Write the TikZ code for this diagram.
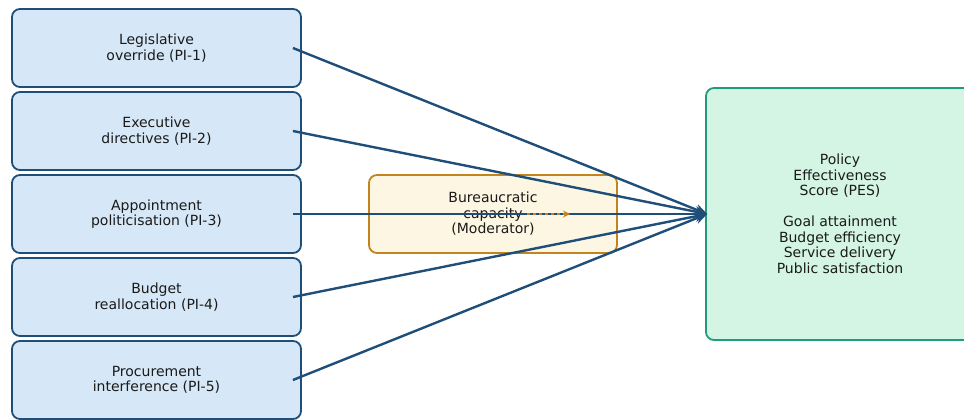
\documentclass[tikz,border=0pt]{standalone}
\usepackage{fontspec}
\setmainfont{DejaVu Sans}
\usetikzlibrary{arrows.meta}
\definecolor{pibord}{HTML}{1F4E79}
\definecolor{pifill}{HTML}{D6E8F7}
\definecolor{modbord}{HTML}{C4841D}
\definecolor{modfill}{HTML}{FDF6E3}
\definecolor{pesbord}{HTML}{1E9C7C}
\definecolor{pesfill}{HTML}{D4F5E4}
\definecolor{txt}{HTML}{1A1A1A}
\tikzset{
  basebox/.style={line width=1.8pt, rounded corners=8pt, align=center, text=txt,
    font=\fontsize{14}{15.5}\selectfont},
  pibox/.style={basebox, draw=pibord, fill=pifill, minimum width=289pt, minimum height=78pt},
  modbox/.style={basebox, draw=modbord, fill=modfill, minimum width=248pt, minimum height=78pt},
  pesbox/.style={basebox, draw=pesbord, fill=pesfill, minimum width=268pt, minimum height=252pt},
  link/.style={draw=pibord, line width=2.4pt, -{Stealth[length=12pt,width=11pt]}},
  modlink/.style={draw=modbord, line width=1.8pt, dash pattern=on 3pt off 3pt, -{Stealth[length=7pt,width=7pt]}}
}
\begin{document}
\begin{tikzpicture}[x=1pt,y=-1pt]
\useasboundingbox (0,0) rectangle (964,420);
\node[pibox] (p1) at (156.5,48) {Legislative\\override (PI-1)};
\node[pibox] (p2) at (156.5,131) {Executive\\directives (PI-2)};
\node[pibox] (p3) at (156.5,214) {Appointment\\politicisation (PI-3)};
\node[pibox] (p4) at (156.5,297) {Budget\\reallocation (PI-4)};
\node[pibox] (p5) at (156.5,380) {Procurement\\interference (PI-5)};
\node[modbox] (mod) at (493,214) {Bureaucratic\\capacity\\(Moderator)};
\node[pesbox] (pes) at (840,214) {Policy\\Effectiveness\\Score (PES)\\[15.5pt]Goal attainment\\Budget efficiency\\Service delivery\\Public satisfaction};
\coordinate (mstart) at ([xshift=34pt]mod.center);
\coordinate (mend) at ([xshift=77pt]mod.center);
\foreach \n in {p1,p2,p3,p4,p5}{
  \draw[link] ([xshift=-9pt]\n.east) -- ([xshift=2pt]pes.west);
}
\draw[modlink] (mstart) -- (mend);
\end{tikzpicture}
\end{document}
